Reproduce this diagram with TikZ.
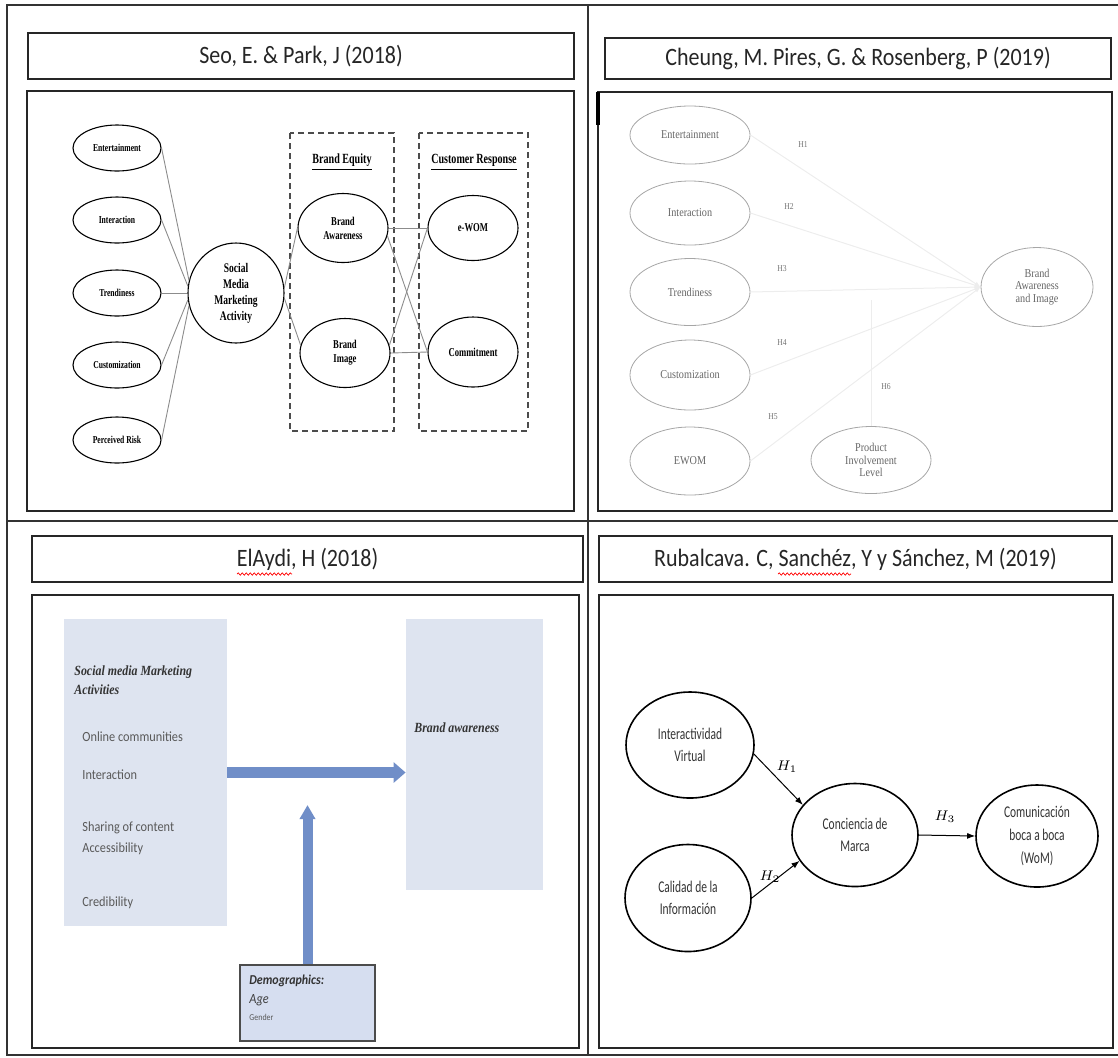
\documentclass[tikz,border=0pt]{standalone}
\usepackage{fontspec}
\usetikzlibrary{shapes.geometric, arrows.meta, calc, positioning, decorations.pathmorphing}
\setmainfont{Carlito}
\newfontfamily\calnarrow[FakeStretch=0.88]{Carlito}
\newfontfamily\calcond[FakeStretch=0.7]{Carlito}
\newfontfamily\timesnarrow[FakeStretch=0.85]{Liberation Serif}
\newfontfamily\timescond[FakeStretch=0.72]{Liberation Serif}
\definecolor{boxblue}{RGB}{222,228,240}
\definecolor{demblue}{RGB}{214,222,240}
\definecolor{arrowblue}{RGB}{112,142,200}

\begin{document}
\begin{tikzpicture}
        [
          x=0.5pt, y=-0.5pt,
          frame/.style={draw=black!80, line width=0.7pt},
          titlebox/.style={draw=black!85, line width=0.9pt, inner sep=0pt, text=black!85,
            font=\calnarrow\fontsize{12.5}{14}\selectfont},
          spellmark/.style={draw=red, line width=0.35pt, decorate,
            decoration={snake, segment length=2pt, amplitude=0.6pt}},
          panel/.style={draw=black!85, line width=0.9pt},
          seoell/.style={ellipse, draw, line width=0.55pt, inner sep=0pt, align=center,
            minimum width=44pt, minimum height=23pt,
            font=\timescond\bfseries\fontsize{5.3}{6}\selectfont},
          seobig/.style={seoell, minimum width=48pt, minimum height=50pt,
            font=\timescond\bfseries\fontsize{6.6}{8}\selectfont},
          seomid/.style={seoell, minimum width=45pt, minimum height=34.5pt,
            font=\timescond\bfseries\fontsize{6}{7}\selectfont},
          seohead/.style={inner sep=0pt, font=\timescond\bfseries\fontsize{7}{8}\selectfont},
          seoline/.style={draw=black!45, line width=0.45pt},
          dashbox/.style={draw=black!70, line width=0.6pt, densely dashed},
          chell/.style={ellipse, draw=black!35, line width=0.4pt, inner sep=0pt, align=center,
            minimum width=60pt, text=black!60,
            font=\timesnarrow\fontsize{6}{6.3}\selectfont},
          chline/.style={draw=black!7, line width=0.5pt},
          chlab/.style={inner sep=0pt, text=black!55, font=\timesnarrow\fontsize{4.5}{5}\selectfont},
          smabox/.style={fill=boxblue, inner sep=0pt},
          elitem/.style={anchor=west, inner sep=0pt, text=black!65,
            font=\calnarrow\fontsize{7}{8}\selectfont},
          elhead/.style={anchor=west, inner sep=0pt, align=left, text=black!80,
            font=\timesnarrow\bfseries\itshape\fontsize{7}{9.5}\selectfont},
          blockarrow/.style={draw=arrowblue, line width=5.5pt, -{Triangle[width=10pt,length=6pt]}},
          rubell/.style={ellipse, draw, line width=0.8pt, inner sep=0pt, align=center, text=black!80,
            font=\calcond\fontsize{8.2}{11.3}\selectfont},
          rubarrow/.style={draw, line width=0.5pt, -{Latex[length=4pt,width=3pt]}},
          rubhyp/.style={inner sep=0pt, font=\fontsize{7}{8}\selectfont}
        ]
        \useasboundingbox (0,0) rectangle (1118,1057);
        % table frame
        \draw[frame] (1118,5) -- (7,5) -- (7,1055) -- (1118,1055);
        \draw[frame] (588,5) -- (588,1055);
        \draw[frame] (7,521) -- (1118,521);
        % titles
        \node[titlebox, minimum width=273pt, minimum height=23pt] (t1) at (301,56) {Seo, E. \& Park, J (2018)};
        \node[titlebox, minimum width=253pt, minimum height=20.5pt] (t2) at (858,58.5) {Cheung, M. Pires, G. \& Rosenberg, P (2019)};
        \node[titlebox, minimum width=275.5pt, minimum height=23pt] (t3) at (307.5,559) {ElAydi, H (2018)};
        \node[titlebox, minimum width=256.5pt, minimum height=23pt] (t4) at (855.5,559) {Rubalcava. C, Sanchéz, Y y Sánchez, M (2019)};
        \draw[spellmark] (237,574) -- (292,574);
        \draw[spellmark] (778,574) -- (851,574);
        % panels
        \draw[panel] (27,91) rectangle (574,511);
        \draw[panel] (598,92) rectangle (1112,511);
        \draw[black, line width=1.6pt] (598,92) -- (598,125);
        \draw[panel] (32,595) rectangle (579,1048);
        \draw[panel] (599,595) rectangle (1113,1048);

        % Seo & Park
        \foreach \n/\t/\y in {ent/Entertainment/148, int/Interaction/220, tre/Trendiness/293,
                              cus/Customization/365, ris/Perceived Risk/440} {
            \node[seoell] (\n) at (117,\y) {\t};
        }
        \node[seobig] (smma) at (236,293) {Social\\Media\\Marketing\\Activity};
        \foreach \n/\a in {ent/165, int/172, tre/180, cus/188, ris/195} {
            \draw[seoline] (\n.east) -- (smma.\a);
        }
        \draw[dashbox] (290,133) rectangle (394,431);
        \draw[dashbox] (419,133) rectangle (528,431);
        \node[seohead] (beq) at (342,162) {\underline{Brand Equity}};
        \node[seohead] (cre) at (474,162) {\underline{Customer Response}};
        \node[seomid] (baw1) at (343,228) {Brand\\Awareness};
        \node[seomid] (bim1) at (345,353) {Brand\\Image};
        \node[seomid, minimum height=32.5pt] (ewom1) at (473,228) {e-WOM};
        \node[seomid, minimum height=35pt] (com1) at (473,352) {Commitment};
        \draw[seoline] (smma.6) -- (baw1.west);
        \draw[seoline] (smma.-6) -- (bim1.170);
        \draw[seoline] (baw1.east) -- (ewom1.west);
        \draw[seoline] (baw1.-10) -- (com1.west);
        \draw[seoline] (bim1.10) -- (ewom1.west);
        \draw[seoline] (bim1.east) -- (com1.west);

        % Cheung et al.
        \foreach \n/\t/\y/\h in {ent2/Entertainment/135/29, int2/Interaction/213/32,
                                 tre2/Trendiness/292/33.5, cus2/Customization/375/35, ewm2/EWOM/461/34} {
            \node[chell, minimum height=\h pt] (\n) at (690,\y) {\t};
        }
        \node[chell, minimum height=33.5pt] (pil) at (871,460) {Product\\Involvement\\Level};
        \node[chell, minimum width=56pt, minimum height=39.5pt] (bai) at (1037,287) {Brand\\Awareness\\and Image};
        \foreach \n in {ent2, int2, tre2, cus2, ewm2} {
            \draw[chline, -{Latex[length=3pt]}] (\n.east) -- (bai.west);
        }
        \coordinate (mod) at (871,300);
        \draw[chline] (pil.north) -- (mod);
        \foreach \n/\t/\x/\y in {h1/H1/803/145, h2/H2/789/207, h3/H3/782/269,
                                 h4/H4/782/343, h6/H6/886/387, h5/H5/773/417} {
            \node[chlab] (\n) at (\x,\y) {\t};
        }

        % ElAydi
        \node[smabox, minimum width=81.5pt, minimum height=153.5pt] (sma) at (145.5,772.5) {};
        \node[smabox, minimum width=68.5pt, minimum height=135.5pt] (baw) at (474.5,754.5) {};
        \node[elhead] (smah) at (74,680.5) {Social media Marketing\\Activities};
        \foreach \n/\t/\y in {it1/Online communities/737, it2/Interaction/775, it3/Sharing of content/828,
                              it4/Accessibility/849, it5/Credibility/903} {
            \node[elitem] (\n) at (82,\y) {\t};
        }
        \node[elhead] (bawt) at (414,728) {Brand awareness};
        \node[smabox, fill=demblue, draw=black!70, line width=0.7pt,
              minimum width=67.5pt, minimum height=38pt] (dem) at (307.5,1003) {};
        \node[elitem, text=black!80, font=\calnarrow\bfseries\itshape\fontsize{6.8}{8}\selectfont] (demh) at (249,981) {Demographics:};
        \node[elitem, text=black!75, font=\calnarrow\itshape\fontsize{7}{8}\selectfont] (age) at (249,1000) {Age};
        \node[elitem, font=\calnarrow\fontsize{4.5}{5}\selectfont] (gen) at (249,1017) {Gender};
        \draw[blockarrow] (sma.east) -- (sma.east -| baw.west);
        \coordinate (demtip) at (307.5,805);
        \draw[blockarrow, line width=5pt, -{Triangle[width=7.5pt,length=7pt]}] (dem.north) -- (demtip);

        % Rubalcava et al.
        \node[rubell, minimum width=64pt, minimum height=53pt] (iv) at (690,745) {Interactividad\\Virtual};
        \node[rubell, minimum width=63pt, minimum height=53.5pt] (cal) at (688,898) {Calidad de la\\Información};
        \node[rubell, minimum width=63pt, minimum height=51.5pt] (con) at (855,835) {Conciencia de\\Marca};
        \node[rubell, minimum width=61pt, minimum height=51pt] (wom) at (1037,836) {Comunicación\\boca a boca\\(WoM)};
        \draw[rubarrow] (iv.-8) -- (con.150);
        \draw[rubarrow] (cal.east) -- (con.205);
        \draw[rubarrow] (con.east) -- (wom.west);
        \node[rubhyp] (rh1) at (787,767) {$H_1$};
        \node[rubhyp] (rh2) at (770,877) {$H_2$};
        \node[rubhyp] (rh3) at (945,817) {$H_3$};
\end{tikzpicture}
\end{document}
